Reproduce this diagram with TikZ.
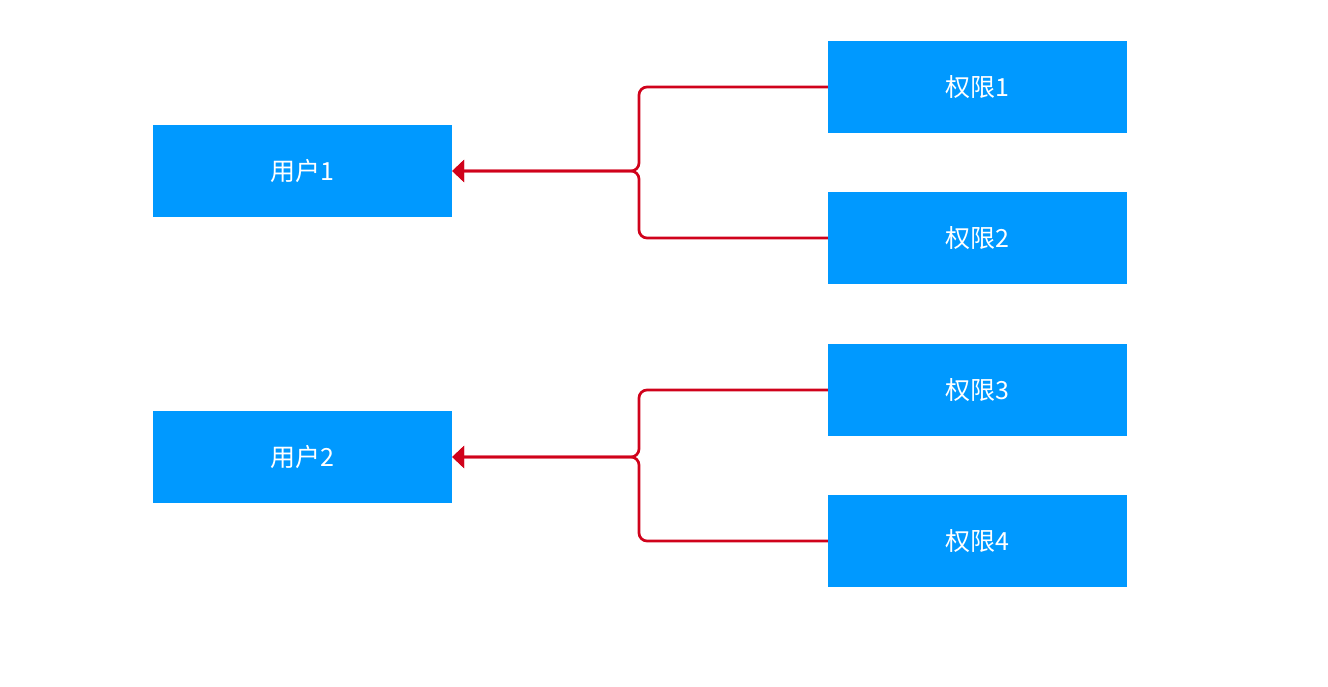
\documentclass[tikz,border=0pt]{standalone}
\usepackage{fontspec}
\setmainfont{Noto Sans CJK SC}
\usetikzlibrary{arrows.meta}
\definecolor{boxblue}{HTML}{0099FF}
\definecolor{linkred}{HTML}{D0021B}
\begin{document}
\begin{tikzpicture}[x=1pt,y=-1pt,
  box/.style={fill=boxblue, draw=none, text=white, minimum width=299pt, minimum height=92pt, inner sep=0pt, font=\fontsize{25}{30}\selectfont},
  link/.style={draw=linkred, line width=2.7pt, rounded corners=8pt, -{Triangle[length=12pt,width=22pt]}}]
\useasboundingbox (0,0) rectangle (1328,687);
\node[box] (u1) at (302.5,171) {用户1};
\node[box] (u2) at (302.5,457) {用户2};
\node[box] (p1) at (977.5,87) {权限1};
\node[box] (p2) at (977.5,238) {权限2};
\node[box] (p3) at (977.5,390) {权限3};
\node[box] (p4) at (977.5,541) {权限4};
\coordinate (j1) at (639,171);
\coordinate (j2) at (639,457);
\draw[link] (p1.west) -| (j1) -- (u1.east);
\draw[link] (p2.west) -| (j1) -- (u1.east);
\draw[link] (p3.west) -| (j2) -- (u2.east);
\draw[link] (p4.west) -| (j2) -- (u2.east);
\end{tikzpicture}
\end{document}
